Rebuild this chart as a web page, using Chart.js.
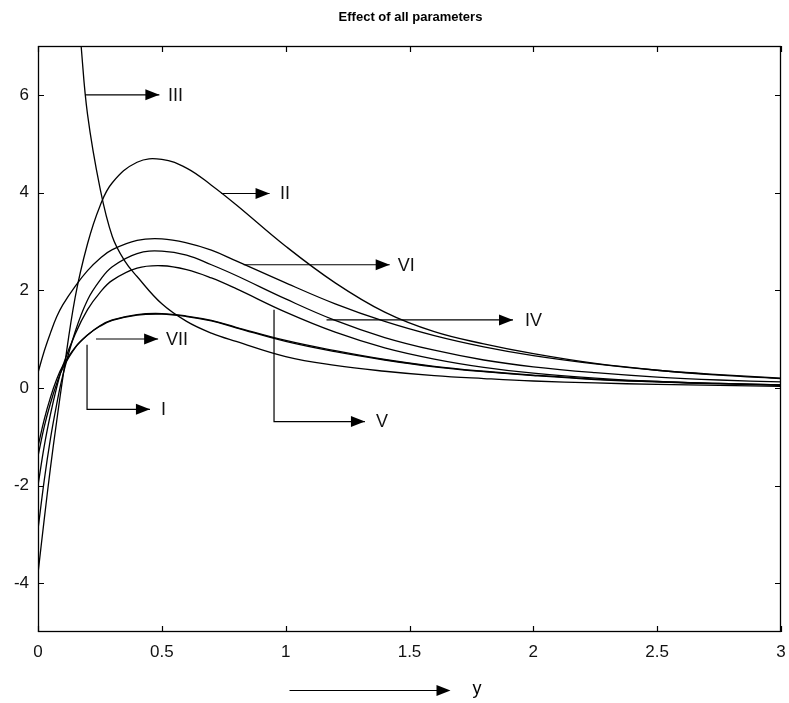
<!DOCTYPE html>
<html>
<head>
<meta charset="utf-8">
<script src="https://cdn.jsdelivr.net/npm/chart.js@4/dist/chart.umd.min.js"></script>
<style>
html,body{margin:0;padding:0;background:#fff;}
#wrap{width:789px;height:703px;position:relative;}
</style>
</head>
<body>
<div id="wrap"><canvas id="c" width="789" height="703"></canvas></div>
<script>
// ---- data ----
const xs = [0, 0.025, 0.05, 0.075, 0.1, 0.15, 0.2, 0.25, 0.3, 0.4, 0.5, 0.6, 0.7, 0.8, 1.0, 1.2, 1.4, 1.6, 1.8, 2.0, 2.25, 2.5, 2.75, 3.0];
const curveI   = [-1.2, -0.65, -0.2, 0.17, 0.45, 0.83, 1.08, 1.26, 1.38, 1.49, 1.51, 1.46, 1.37, 1.23, 0.95, 0.74, 0.57, 0.43, 0.33, 0.25, 0.17, 0.12, 0.08, 0.05];
const curveII  = [-3.8, -2.7, -1.65, -0.7, 0.2, 1.85, 2.95, 3.72, 4.2, 4.62, 4.68, 4.5, 4.15, 3.75, 2.9, 2.15, 1.55, 1.15, 0.9, 0.7, 0.5, 0.36, 0.26, 0.19];
const curveIV  = [-2.9, -1.9, -1.05, -0.35, 0.25, 1.15, 1.8, 2.2, 2.48, 2.75, 2.8, 2.72, 2.52, 2.3, 1.82, 1.38, 1.03, 0.77, 0.57, 0.43, 0.31, 0.22, 0.16, 0.12];
const curveV   = [-2.0, -1.2, -0.55, 0.0, 0.45, 1.1, 1.6, 1.95, 2.2, 2.45, 2.5, 2.42, 2.25, 2.03, 1.55, 1.14, 0.82, 0.59, 0.42, 0.3, 0.2, 0.13, 0.09, 0.06];
const curveVI  = [0.31, 0.75, 1.12, 1.45, 1.7, 2.08, 2.4, 2.65, 2.83, 3.02, 3.05, 2.97, 2.82, 2.6, 2.15, 1.72, 1.36, 1.07, 0.84, 0.66, 0.49, 0.36, 0.27, 0.2];
const curveVII = [-1.4, -0.8, -0.32, 0.08, 0.4, 0.82, 1.08, 1.27, 1.39, 1.5, 1.52, 1.47, 1.38, 1.24, 0.97, 0.76, 0.58, 0.44, 0.34, 0.26, 0.18, 0.13, 0.09, 0.06];
const xsIII    = [0.125, 0.15, 0.175, 0.2, 0.25, 0.3, 0.35, 0.4, 0.5, 0.6, 0.7, 0.8, 1.0, 1.2, 1.4, 1.6, 1.8, 2.0, 2.25, 2.5, 2.75, 3.0];
const curveIII = [11, 8.6, 6.95, 5.6, 4.1, 3.1, 2.6, 2.28, 1.72, 1.36, 1.12, 0.95, 0.64, 0.46, 0.34, 0.25, 0.19, 0.14, 0.1, 0.07, 0.05, 0.03];

const xTicks = [0, 0.5, 1, 1.5, 2, 2.5, 3];
const yTicks = [-4, -2, 0, 2, 4, 6];

// annotation arrows (data coordinates) and their labels
const arrowNames  = ['III', 'II', 'VI', 'IV', 'V', 'VII', 'I'];
const arrowPaths  = [
  [[0.19, 6.0], [0.49, 6.0]],
  [[0.74, 3.98], [0.935, 3.98]],
  [[0.83, 2.52], [1.42, 2.52]],
  [[1.165, 1.39], [1.918, 1.39]],
  [[0.953, 1.6], [0.953, -0.69], [1.32, -0.69]],
  [[0.234, 1.0], [0.485, 1.0]],
  [[0.198, 0.88], [0.198, -0.44], [0.452, -0.44]]
];
const labelAt = [[0.525, 6.0], [0.977, 3.98], [1.453, 2.52], [1.966, 1.39], [1.365, -0.69], [0.517, 1.0], [0.497, -0.44]];

const titleText = 'Effect of all parameters';
const xAxisLabel = 'y';

// ---- build datasets ----
function pts(x, y) { return x.map((v, i) => ({x: v, y: y[i]})); }
const curveStyle = {borderColor: '#000', borderWidth: 1.3, pointRadius: 0, fill: false, tension: 0.4};
const datasets = [
  Object.assign({label: 'I', data: pts(xs, curveI)}, curveStyle),
  Object.assign({label: 'II', data: pts(xs, curveII)}, curveStyle),
  Object.assign({label: 'III', data: pts(xsIII, curveIII)}, curveStyle),
  Object.assign({label: 'IV', data: pts(xs, curveIV)}, curveStyle),
  Object.assign({label: 'V', data: pts(xs, curveV)}, curveStyle),
  Object.assign({label: 'VI', data: pts(xs, curveVI)}, curveStyle),
  Object.assign({label: 'VII', data: pts(xs, curveVII)}, curveStyle)
];
arrowPaths.forEach((p, i) => {
  datasets.push({label: 'arrow ' + arrowNames[i], data: p.map(q => ({x: q[0], y: q[1]})),
    borderColor: '#000', borderWidth: 1.2, pointRadius: 0, tension: 0, fill: false});
});

const FONT = '"Liberation Sans", Arial, sans-serif';

const decor = {
  id: 'decor',
  afterDatasetsDraw(chart) {
    const ctx = chart.ctx, a = chart.chartArea;
    const xs_ = chart.scales.x, ys_ = chart.scales.y;
    ctx.save();
    // frame
    ctx.strokeStyle = '#000'; ctx.lineWidth = 1.3;
    ctx.strokeRect(a.left + 0.5, a.top + 0.5, a.right - a.left - 1, a.bottom - a.top - 1);
    // inward ticks
    const tl = 6;
    ctx.lineWidth = 1.2;
    ctx.beginPath();
    xTicks.forEach(v => {
      const px = Math.round(xs_.getPixelForValue(v)) + 0.5;
      ctx.moveTo(px, a.bottom); ctx.lineTo(px, a.bottom - tl);
      ctx.moveTo(px, a.top); ctx.lineTo(px, a.top + tl);
    });
    yTicks.forEach(v => {
      const py = Math.round(ys_.getPixelForValue(v)) + 0.5;
      ctx.moveTo(a.left, py); ctx.lineTo(a.left + tl, py);
      ctx.moveTo(a.right, py); ctx.lineTo(a.right - tl, py);
    });
    ctx.stroke();
    // arrowheads
    ctx.fillStyle = '#000';
    arrowPaths.forEach(p => {
      const n = p.length;
      const x1 = xs_.getPixelForValue(p[n - 2][0]), y1 = ys_.getPixelForValue(p[n - 2][1]);
      const x2 = xs_.getPixelForValue(p[n - 1][0]), y2 = ys_.getPixelForValue(p[n - 1][1]);
      const ang = Math.atan2(y2 - y1, x2 - x1);
      const L = 14, W = 5.5;
      ctx.beginPath();
      ctx.moveTo(x2, y2);
      ctx.lineTo(x2 - L * Math.cos(ang) + W * Math.sin(ang), y2 - L * Math.sin(ang) - W * Math.cos(ang));
      ctx.lineTo(x2 - L * Math.cos(ang) - W * Math.sin(ang), y2 - L * Math.sin(ang) + W * Math.cos(ang));
      ctx.closePath(); ctx.fill();
    });
    // labels
    ctx.font = '18px ' + FONT;
    ctx.textAlign = 'left'; ctx.textBaseline = 'middle';
    ctx.fillStyle = '#111';
    labelAt.forEach((q, i) => {
      ctx.fillText(arrowNames[i], xs_.getPixelForValue(q[0]), ys_.getPixelForValue(q[1]) + 1);
    });
    // title
    const cx = (a.left + a.right) / 2;
    ctx.font = 'bold 13px ' + FONT;
    ctx.textAlign = 'center';
    ctx.fillStyle = '#000';
    ctx.fillText(titleText, cx + 1, 17);
    // x-axis label arrow
    const ay = a.bottom + 58;
    ctx.lineWidth = 1.2;
    ctx.beginPath();
    ctx.moveTo(cx - 120, ay + 0.5); ctx.lineTo(cx + 30, ay + 0.5);
    ctx.stroke();
    ctx.beginPath();
    ctx.moveTo(cx + 41, ay + 0.5);
    ctx.lineTo(cx + 27, ay - 5);
    ctx.lineTo(cx + 27, ay + 6);
    ctx.closePath(); ctx.fill();
    ctx.font = '18px ' + FONT;
    ctx.textAlign = 'left';
    ctx.fillText(xAxisLabel, cx + 63, ay - 1);
    ctx.restore();
  }
};

new Chart(document.getElementById('c'), {
  type: 'line',
  data: {datasets: datasets},
  options: {
    responsive: false,
    animation: false,
    layout: {padding: {top: 46, right: 8, left: 0, bottom: 0}},
    plugins: {legend: {display: false}, tooltip: {enabled: false}, title: {display: false}},
    scales: {
      x: {
        type: 'linear', min: 0, max: 3,
        afterBuildTicks: s => { s.ticks = xTicks.map(v => ({value: v})); },
        afterFit: s => { s.height = 71; s.paddingLeft = 0; s.paddingRight = 0; },
        grid: {display: false, drawTicks: false},
        border: {display: false},
        ticks: {padding: 10, color: '#111', font: {size: 17, family: FONT}, maxRotation: 0, autoSkip: false,
                callback: v => String(v)}
      },
      y: {
        type: 'linear', min: -5, max: 7,
        afterBuildTicks: s => { s.ticks = yTicks.map(v => ({value: v})); },
        afterFit: s => { s.width = 38; s.paddingTop = 0; s.paddingBottom = 0; },
        grid: {display: false, drawTicks: false},
        border: {display: false},
        ticks: {padding: 9, color: '#111', font: {size: 17, family: FONT}, callback: v => String(v)}
      }
    }
  },
  plugins: [decor]
});
</script>
</body>
</html>
